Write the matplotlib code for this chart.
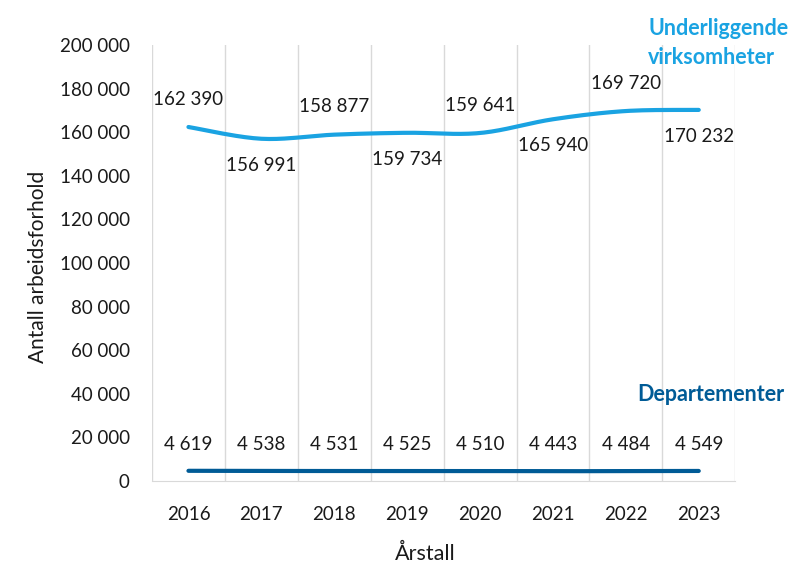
import numpy as np
import matplotlib
matplotlib.use("Agg")
import matplotlib.pyplot as plt
from matplotlib.ticker import FuncFormatter

plt.rcParams['font.family'] = ['Lato', 'DejaVu Sans']

years = ["2016", "2017", "2018", "2019", "2020", "2021", "2022", "2023"]
underliggende = [162390, 156991, 158877, 159734, 159641, 165940, 169720, 170232]
departementer = [4619, 4538, 4531, 4525, 4510, 4443, 4484, 4549]

LIGHT = "#1aa3e2"
DARK = "#005b96"


def fmt(v):
    return f"{v:,.0f}".replace(",", " ")


def smooth(x, y, n=20):
    # catmull-rom style curve like excel's smoothed line
    x = np.asarray(x, float)
    y = np.asarray(y, float)
    px = np.concatenate([[x[0]], x, [x[-1]]])
    py = np.concatenate([[y[0]], y, [y[-1]]])
    xs, ys = [], []
    for i in range(1, len(px) - 2):
        t = np.linspace(0, 1, n)
        for p, out in ((px, xs), (py, ys)):
            p0, p1, p2, p3 = p[i - 1], p[i], p[i + 1], p[i + 2]
            c1 = p1 + (p2 - p0) / 6
            c2 = p2 - (p3 - p1) / 6
            out.extend((1 - t) ** 3 * p1 + 3 * (1 - t) ** 2 * t * c1
                       + 3 * (1 - t) * t ** 2 * c2 + t ** 3 * p2)
    return xs, ys


fig = plt.figure(figsize=(8, 5.85), dpi=100)
ax = fig.add_axes([0.19, 0.178, 0.729, 0.745])

x = np.arange(len(years))
sx, sy = smooth(x, underliggende)
ax.plot(sx, sy, color=LIGHT, lw=3, solid_capstyle="round")
sx, sy = smooth(x, departementer)
ax.plot(sx, sy, color=DARK, lw=3, solid_capstyle="round")

for i, v in enumerate(underliggende):
    off = 20 if i % 2 == 0 else -19
    ax.annotate(fmt(v), (x[i], v), xytext=(0, off), textcoords="offset points",
                ha="center", va="center", fontsize=13.5, color="#1a1a1a")
for i, v in enumerate(departementer):
    ax.annotate(fmt(v), (x[i], v), xytext=(0, 19), textcoords="offset points",
                ha="center", va="center", fontsize=13.5, color="#1a1a1a")

ax.set_xlim(-0.5, len(years) - 0.5)
ax.set_ylim(0, 200000)
ax.set_yticks(np.arange(0, 200001, 20000))
ax.yaxis.set_major_formatter(FuncFormatter(lambda v, p: fmt(v)))
ax.set_xticks(x)
ax.set_xticklabels(years)
ax.set_xticks(np.arange(-0.5, len(years)), minor=True)
ax.grid(which="minor", axis="x", color="#d9d9d9", lw=1)
ax.tick_params(which="both", length=0, labelsize=13.5, colors="#1a1a1a")
ax.tick_params(axis="x", pad=18)
ax.tick_params(axis="y", pad=16)
for s in ["top", "left", "right"]:
    ax.spines[s].set_visible(False)
ax.spines["bottom"].set_color("#d9d9d9")

ax.set_ylabel("Antall arbeidsforhold", fontsize=15, color="#1a1a1a")
ax.yaxis.set_label_coords(-0.178, 0.49)
ax.set_xlabel("Årstall", fontsize=15.5, color="#1a1a1a")
ax.xaxis.set_label_coords(0.468, -0.145)

fig.text(0.81, 0.952, "Underliggende", color=LIGHT, fontsize=15.5,
         fontweight="bold", ha="left", va="center")
fig.text(0.81, 0.902, "virksomheter", color=LIGHT, fontsize=15.5,
         fontweight="bold", ha="left", va="center")
fig.text(0.797, 0.325, "Departementer", color=DARK, fontsize=15.5,
         fontweight="bold", ha="left", va="center")

fig.savefig("out.png", dpi=100)
